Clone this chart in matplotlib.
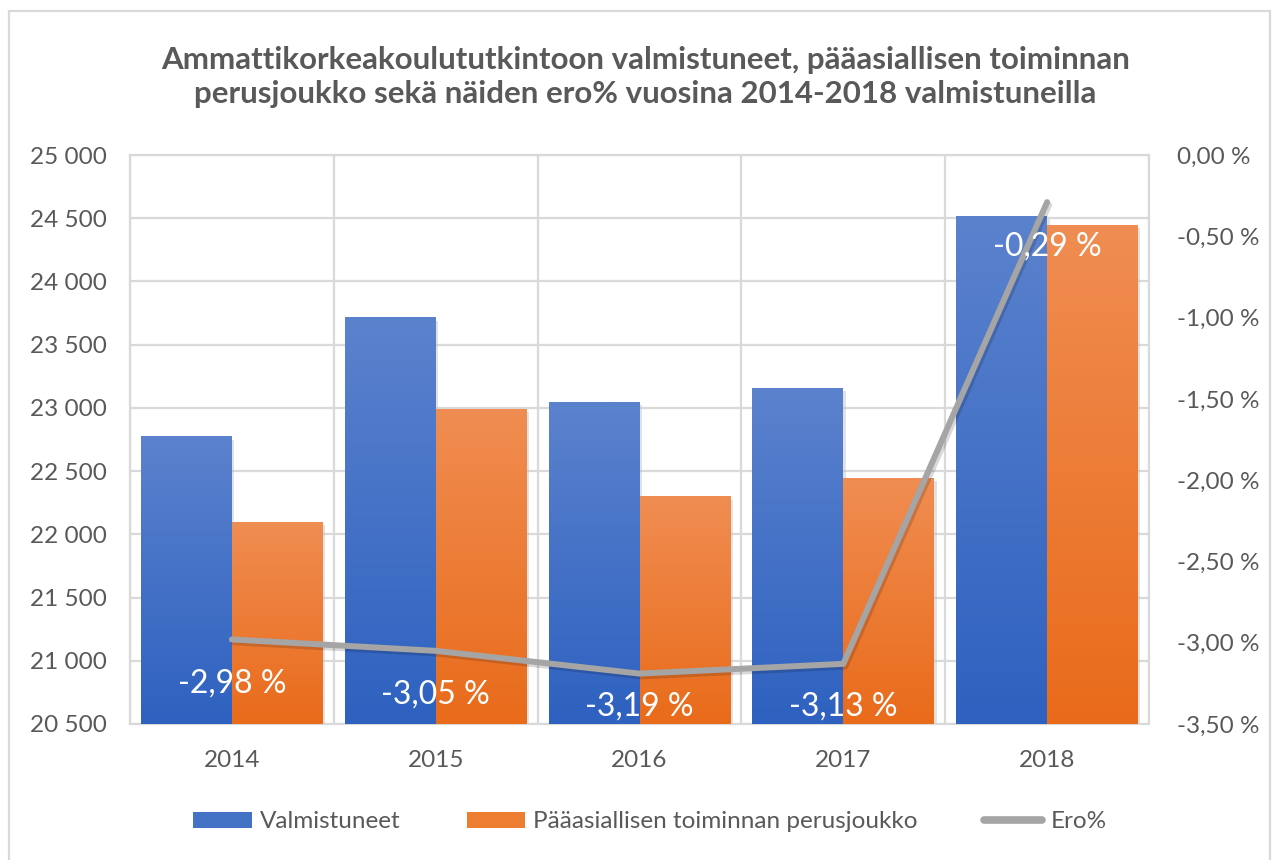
import numpy as np
import matplotlib
matplotlib.use("Agg")
import matplotlib.pyplot as plt
from matplotlib.patches import Rectangle, Patch
from matplotlib.lines import Line2D
from matplotlib.colors import LinearSegmentedColormap
from matplotlib.ticker import FuncFormatter, MultipleLocator
import matplotlib.patheffects as pe

years = ["2014", "2015", "2016", "2017", "2018"]
valmistuneet = [22775, 23715, 23045, 23155, 24515]
perusjoukko = [22095, 22995, 22300, 22445, 24445]
ero_pct = [-2.98, -3.05, -3.19, -3.13, -0.29]
ero_labels = ["-2,98 %", "-3,05 %", "-3,19 %", "-3,13 %", "-0,29 %"]

title = ("Ammattikorkeakoulututkintoon valmistuneet, pääasiallisen toiminnan\n"
         "perusjoukko sekä näiden ero% vuosina 2014-2018 valmistuneilla")
series_names = ["Valmistuneet", "Pääasiallisen toiminnan perusjoukko", "Ero%"]

plt.rcParams['font.family'] = ['Lato', 'DejaVu Sans']
TXT = "#595959"
GRID = "#D9D9D9"
FS = 17.5

fig = plt.figure(figsize=(12.76, 8.6), dpi=100)
fig.patch.set_facecolor("white")

# outer chart border
fig.patches.append(Rectangle((9 / 1276, -0.05), 1261 / 1276, 1 - 11 / 860 + 0.05,
                             transform=fig.transFigure, fill=False,
                             edgecolor=GRID, lw=1.6, zorder=0))

ax = fig.add_axes([130 / 1276, 1 - 724 / 860, 1019 / 1276, 569 / 860])
x = np.arange(len(years))
w = 0.446

blue_cmap = LinearSegmentedColormap.from_list("b", ["#2E61C0", "#5B82CD"])
orange_cmap = LinearSegmentedColormap.from_list("o", ["#E96B1A", "#F08D52"])

ymin, ymax = 20500, 25000
b1 = ax.bar(x - w / 2, valmistuneet, w, bottom=0, color="none", zorder=3)
b2 = ax.bar(x + w / 2, perusjoukko, w, bottom=0, color="none", zorder=3)

grad = np.linspace(0, 1, 256).reshape(-1, 1)
for bars, cmap in ((b1, blue_cmap), (b2, orange_cmap)):
    for r in bars:
        x0, h = r.get_x(), r.get_height()
        # shadow
        ax.add_patch(Rectangle((x0 + 0.012, ymin), r.get_width(), h - ymin - 25,
                               facecolor="#BFBFBF", alpha=0.45, zorder=2, lw=0))
        im = ax.imshow(grad, cmap=cmap, origin="lower", aspect="auto",
                       extent=[x0, x0 + r.get_width(), ymin, h], zorder=3,
                       interpolation="bilinear")
        im.set_clip_path(r)

ax.set_xlim(-0.5, len(years) - 0.5)
ax.set_ylim(ymin, ymax)
ax.yaxis.set_major_locator(MultipleLocator(500))
ax.yaxis.set_major_formatter(FuncFormatter(lambda v, p: f"{int(v):,}".replace(",", " ")))
ax.set_xticks(x)
ax.set_xticklabels(years)
ax.set_xticks(np.arange(-0.5, len(years), 1), minor=True)
ax.grid(axis="y", which="major", color=GRID, lw=1.6, zorder=0)
ax.grid(axis="x", which="minor", color=GRID, lw=1.6, zorder=0)
ax.grid(axis="x", which="major", visible=False)
for s in ax.spines.values():
    s.set_color(GRID)
    s.set_linewidth(1.6)
ax.tick_params(axis="both", which="both", length=0, colors=TXT, labelsize=FS)
ax.tick_params(axis="y", pad=17)
ax.tick_params(axis="x", pad=19)
ax.set_axisbelow(True)

ax2 = ax.twinx()
y2min, y2max = -3.5, 0
ax2.set_ylim(y2min, y2max)
ax2.yaxis.set_major_locator(MultipleLocator(0.5))
ax2.yaxis.set_major_formatter(FuncFormatter(lambda v, p: f"{v:.2f} %".replace(".", ",")))
ax2.tick_params(axis="y", length=0, colors=TXT, labelsize=FS, pad=20)
for s in ax2.spines.values():
    s.set_visible(False)
ax2.plot(x, ero_pct, color="#A5A5A5", lw=4.3, solid_capstyle="round",
         solid_joinstyle="round", zorder=5,
         path_effects=[pe.SimpleLineShadow(offset=(1.5, -2), shadow_color="#000000", alpha=0.15),
                       pe.Normal()])
# labels placed below points, kept inside the plot area
for xi, yi, lab in zip(x, ero_pct, ero_labels):
    ly = max(yi - 0.27, y2min + 0.11)
    ax2.text(xi, ly, lab, ha="center", va="center", color="white", fontsize=23, zorder=6)

fig.text(0.506, 1 - 77 / 860, title, ha="center", va="center", fontsize=22.5,
         fontweight="bold", color=TXT, linespacing=1.25)

handles = [Patch(facecolor="#4472C4", edgecolor="none"),
           Patch(facecolor="#ED7D31", edgecolor="none"),
           Line2D([0], [0], color="#A5A5A5", lw=5.5, solid_capstyle="round")]
fig.legend(handles, series_names, loc="center", bbox_to_anchor=(650 / 1276, 1 - 822 / 860),
           ncol=3, frameon=False, fontsize=FS, labelcolor=TXT, handlelength=2.4,
           handleheight=0.6, columnspacing=2.7, handletextpad=0.35)

fig.savefig("out.png", dpi=100, facecolor="white")
